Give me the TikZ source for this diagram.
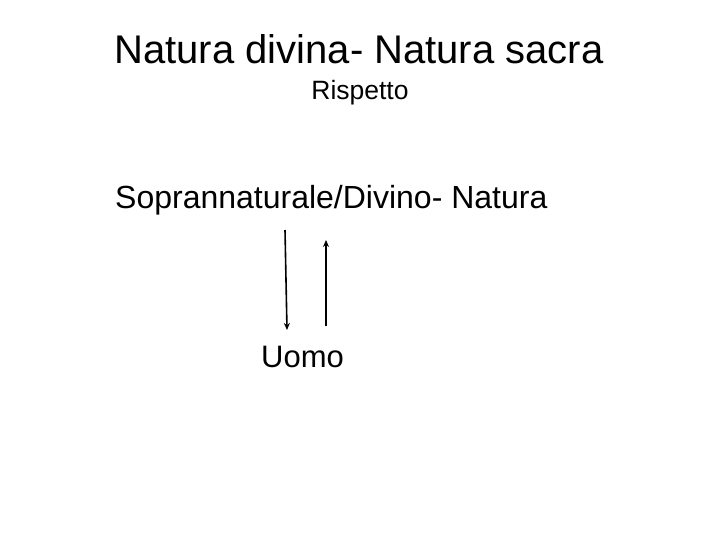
\documentclass[tikz,border=0pt]{standalone}
\usepackage{fontspec}
\setmainfont{Liberation Sans}
\usetikzlibrary{arrows.meta}
\begin{document}
\begin{tikzpicture}[x=1pt,y=-1pt,
  txt/.style={inner sep=0pt,anchor=base},
  arr/.style={line width=1.6pt,-{Stealth[length=7pt,width=6pt]}}]
\useasboundingbox[fill=white] (0,0) rectangle (720,540);
\node[txt] (title) at (359,64) {\fontsize{40}{44}\selectfont Natura divina- Natura sacra};
\node[txt] (sub) at (360,100) {\fontsize{26.5}{30}\selectfont Rispetto};
\node[txt,anchor=base west] (top) at (115,208) {\fontsize{32}{36}\selectfont Soprannaturale/Divino- Natura};
\node[txt,anchor=base west] (uomo) at (261,367) {\fontsize{31}{34}\selectfont Uomo};
\coordinate (a1) at (285,230);
\coordinate (a2) at (287,330);
\coordinate (b1) at (326,326);
\coordinate (b2) at (326,240);
\draw[arr] (a1) -- (a2);
\draw[arr] (b1) -- (b2);
\end{tikzpicture}
\end{document}
